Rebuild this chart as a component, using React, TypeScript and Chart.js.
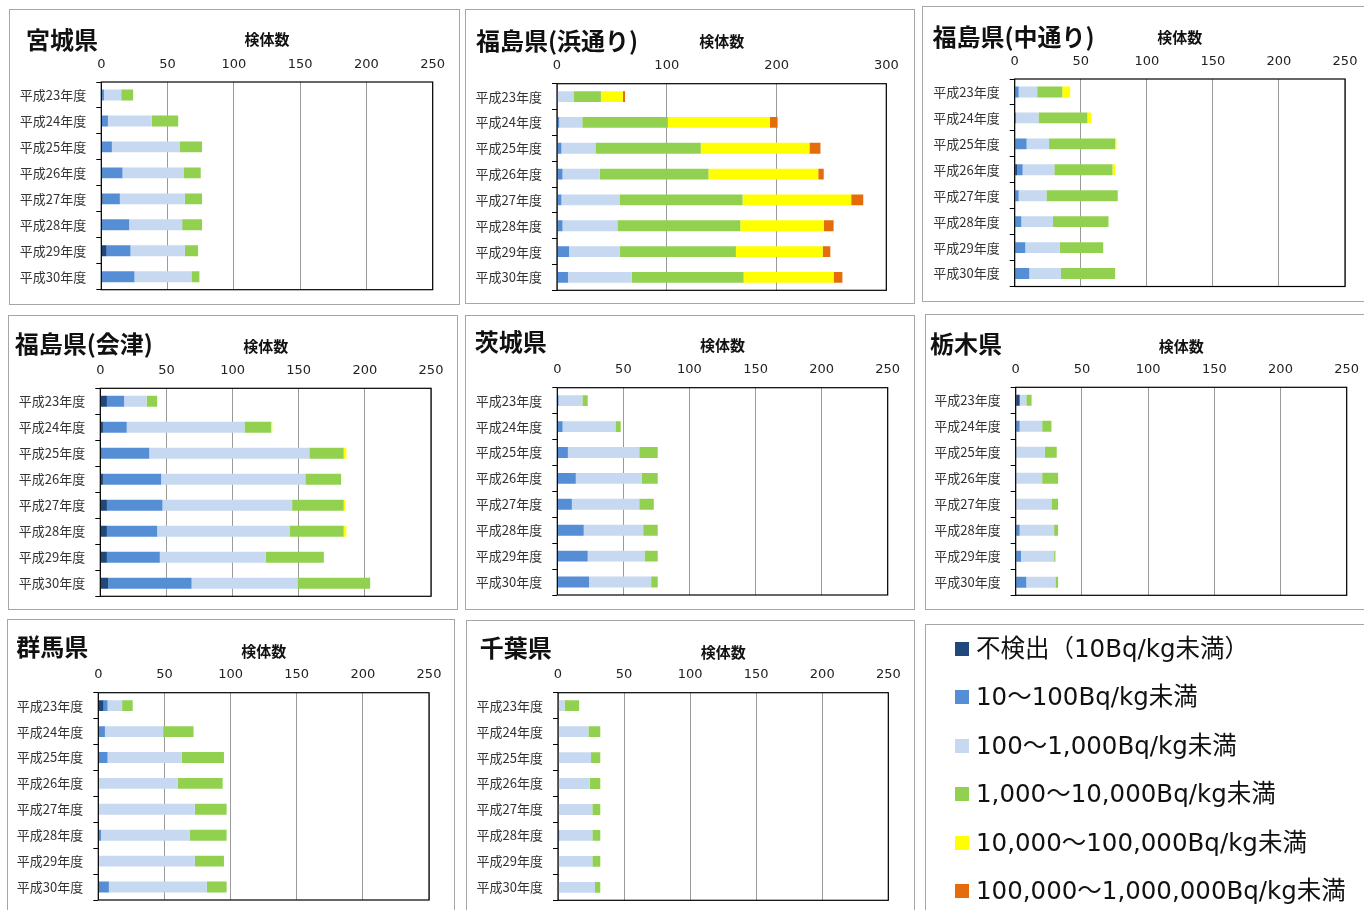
import React, { useEffect, useRef } from 'react';
import { Chart, registerables } from 'chart.js';

Chart.register(...registerables);

// ---------- data ----------
const categories = ['平成23年度', '平成24年度', '平成25年度', '平成26年度', '平成27年度', '平成28年度', '平成29年度', '平成30年度'];
const legendLabels = [
  '不検出（10Bq/kg未満）',
  '10～100Bq/kg未満',
  '100～1,000Bq/kg未満',
  '1,000～10,000Bq/kg未満',
  '10,000～100,000Bq/kg未満',
  '100,000～1,000,000Bq/kg未満',
];
const seriesColors = ['#1F497D', '#558ED5', '#C6D9F1', '#92D050', '#FFFF00', '#E46C0A'];
const axisTitle = '検体数';

// each prefecture: [不検出, 10-100, 100-1,000, 1,000-10,000, 10,000-100,000, 100,000-1,000,000]
const miyagi = [
  [0, 0, 0, 0, 1, 0, 4, 0],
  [2, 5, 8, 16, 13, 21, 18, 25],
  [13, 33, 51, 46, 49, 40, 41, 43],
  [9, 20, 17, 13, 13, 15, 10, 6],
  [0, 0, 0, 0, 0, 0, 0, 0],
  [0, 0, 0, 0, 0, 0, 0, 0],
];
const fukushimaHama = [
  [0, 0, 0, 0, 0, 0, 0, 0],
  [0, 2, 4, 5, 4, 5, 11, 10],
  [15, 21, 31, 34, 53, 50, 46, 58],
  [25, 78, 96, 99, 112, 112, 106, 102],
  [20, 93, 99, 100, 99, 76, 79, 82],
  [2, 7, 10, 5, 11, 9, 7, 8],
];
const fukushimaNaka = [
  [0, 0, 0, 2, 0, 0, 0, 0],
  [3, 1, 9, 4, 3, 5, 8, 11],
  [14, 17, 17, 24, 21, 24, 26, 24],
  [19, 37, 50, 44, 54, 42, 33, 41],
  [6, 3, 1, 2, 0, 0, 0, 0],
  [0, 0, 0, 0, 0, 0, 0, 0],
];
const fukushimaAizu = [
  [5, 2, 1, 2, 5, 5, 5, 6],
  [13, 18, 36, 44, 42, 38, 40, 63],
  [17, 89, 121, 109, 98, 100, 80, 80],
  [8, 20, 26, 27, 39, 41, 44, 55],
  [0, 1, 2, 0, 1, 2, 0, 0],
  [0, 0, 0, 0, 0, 0, 0, 0],
];
const ibaraki = [
  [0, 0, 0, 0, 0, 0, 0, 0],
  [1, 4, 8, 14, 11, 20, 23, 24],
  [18, 40, 54, 50, 51, 45, 43, 47],
  [4, 4, 14, 12, 11, 11, 10, 5],
  [0, 0, 0, 0, 0, 0, 0, 0],
  [0, 0, 0, 0, 0, 0, 0, 0],
];
const tochigi = [
  [3, 0, 0, 0, 0, 0, 0, 0],
  [0, 3, 0, 0, 0, 3, 4, 8],
  [5, 17, 22, 20, 27, 26, 25, 22],
  [4, 7, 9, 12, 5, 3, 1, 2],
  [0, 0, 0, 0, 0, 0, 0, 0],
  [0, 0, 0, 0, 0, 0, 0, 0],
];
const gunma = [
  [4, 0, 0, 0, 0, 0, 0, 0],
  [3, 5, 7, 0, 0, 2, 0, 8],
  [11, 44, 56, 60, 73, 67, 73, 74],
  [8, 23, 32, 34, 24, 28, 22, 15],
  [0, 0, 0, 0, 0, 0, 0, 0],
  [0, 0, 0, 0, 0, 0, 0, 0],
];
const chiba = [
  [0, 0, 0, 0, 0, 0, 0, 0],
  [0, 0, 0, 0, 0, 1, 0, 0],
  [5, 23, 25, 24, 26, 25, 26, 28],
  [11, 9, 7, 8, 6, 6, 6, 4],
  [0, 0, 0, 0, 0, 0, 0, 0],
  [0, 0, 0, 0, 0, 0, 0, 0],
];

// ---------- layout ----------
type PanelDef = {
  title: string;
  series: number[][];
  max: number;
  step: number;
  box: [number, number, number, number]; // x, y, w, h
  plot: [number, number, number, number]; // left, right, top, bottom
  titleX: number;
  titleY: number;
  axisY: number;
};

const panels: PanelDef[] = [
  { title: '宮城県', series: miyagi, max: 250, step: 50, box: [9, 9, 451, 296], plot: [101.3, 432.7, 82, 289.7], titleX: 26, titleY: 40, axisY: 39 },
  { title: '福島県(浜通り)', series: fukushimaHama, max: 300, step: 100, box: [465, 9, 450, 295], plot: [557, 886.3, 83.7, 290.3], titleX: 476, titleY: 41, axisY: 41 },
  { title: '福島県(中通り)', series: fukushimaNaka, max: 250, step: 50, box: [922, 6, 450, 296], plot: [1014.7, 1345, 79, 286.5], titleX: 932.5, titleY: 37, axisY: 37 },
  { title: '福島県(会津)', series: fukushimaAizu, max: 250, step: 50, box: [8, 315, 450, 295], plot: [100.3, 431, 388.3, 596.3], titleX: 14.7, titleY: 344, axisY: 346 },
  { title: '茨城県', series: ibaraki, max: 250, step: 50, box: [465, 315, 450, 295], plot: [557.3, 887.7, 387.7, 595], titleX: 474.7, titleY: 342, axisY: 345 },
  { title: '栃木県', series: tochigi, max: 250, step: 50, box: [925, 314, 450, 296], plot: [1015.7, 1346.7, 387.3, 595.3], titleX: 930, titleY: 344, axisY: 346 },
  { title: '群馬県', series: gunma, max: 250, step: 50, box: [7, 619, 448, 300], plot: [98.3, 429, 692.7, 900], titleX: 16.3, titleY: 646.7, axisY: 651 },
  { title: '千葉県', series: chiba, max: 250, step: 50, box: [466, 620, 449, 300], plot: [558, 888.3, 692.7, 900.3], titleX: 479.7, titleY: 648, axisY: 652 },
];

const legendBox: [number, number, number, number] = [925, 624, 450, 300];

const framePlugin = {
  id: 'plotFrame',
  afterDraw(chart: any) {
    const { ctx, chartArea } = chart;
    const { left, top, right, bottom } = chartArea;
    ctx.save();
    ctx.strokeStyle = '#000';
    ctx.lineWidth = 1.2;
    ctx.strokeRect(left, top, right - left, bottom - top);
    ctx.restore();
  },
};

function Panel({ p }: { p: PanelDef }) {
  const ref = useRef<HTMLCanvasElement | null>(null);
  const [bx, by, bw, bh] = p.box;
  const [pl, pr, pt, pb] = p.plot;
  // canvas extends below the box if needed, so the y-axis label padding never squeezes the plot
  const ch = Math.max(bh, Math.ceil(pb - by) + 24);

  useEffect(() => {
    if (!ref.current) return;
    const chart = new Chart(ref.current, {
      type: 'bar',
      data: {
        labels: categories,
        datasets: legendLabels.map((label, i) => ({
          label,
          data: p.series[i],
          backgroundColor: seriesColors[i],
          borderWidth: 0,
          barPercentage: 0.42,
          categoryPercentage: 1,
        })),
      },
      options: {
        indexAxis: 'y',
        responsive: false,
        animation: false,
        devicePixelRatio: 1,
        layout: { padding: { left: 0, top: 0, right: bx + bw - pr, bottom: by + ch - pb } },
        plugins: { legend: { display: false }, tooltip: { enabled: false } },
        scales: {
          x: {
            type: 'linear',
            position: 'top',
            stacked: true,
            min: 0,
            max: p.max,
            ticks: { stepSize: p.step, font: { family: 'DejaVu Sans', size: 13 }, color: '#222', padding: 10 },
            grid: { color: '#9a9a9a', drawTicks: false, lineWidth: 1 },
            border: { display: false },
            title: {
              display: true,
              text: axisTitle,
              font: { family: 'Noto Sans CJK JP', size: 15, weight: 'bold', lineHeight: 1.2 },
              color: '#111',
              padding: { top: p.axisY - by - 9, bottom: 0 },
            },
            afterFit: (s: any) => {
              s.height = pt - by;
            },
          },
          y: {
            type: 'category',
            position: 'left',
            stacked: true,
            grid: { offset: true, drawOnChartArea: false, drawTicks: true, tickLength: 5, color: '#000' },
            border: { display: false },
            ticks: { font: { family: 'Noto Sans CJK JP', size: 13 }, color: '#333', padding: 10 },
            afterFit: (s: any) => {
              s.width = pl - bx;
            },
          },
        },
      } as any,
      plugins: [framePlugin],
    });
    return () => chart.destroy();
  }, []);

  return (
    <>
      <div
        style={{
          position: 'absolute',
          left: bx,
          top: by,
          width: bw,
          height: bh,
          boxSizing: 'border-box',
          border: '1px solid #a6a6a6',
        }}
      />
      <canvas ref={ref} width={bw} height={ch} style={{ position: 'absolute', left: bx, top: by, width: bw, height: ch }} />
      <div
        style={{
          position: 'absolute',
          left: p.titleX,
          top: p.titleY - 13,
          font: "bold 24px 'Noto Sans CJK JP'",
          lineHeight: '24px',
          whiteSpace: 'nowrap',
          color: '#111',
        }}
      >
        {p.title}
      </div>
    </>
  );
}

export default function App() {
  const [lx, ly, lw, lh] = legendBox;
  return (
    <div style={{ position: 'absolute', left: 0, top: 0, width: 1364, height: 910, overflow: 'hidden', background: '#fff' }}>
      {panels.map((p) => (
        <Panel key={p.title} p={p} />
      ))}
      <div
        style={{
          position: 'absolute',
          left: lx,
          top: ly,
          width: lw,
          height: lh,
          boxSizing: 'border-box',
          border: '1px solid #a6a6a6',
        }}
      />
      {legendLabels.map((label, i) => {
        const cy = 648.5 + i * 48.5;
        return (
          <React.Fragment key={label}>
            <div style={{ position: 'absolute', left: 955, top: cy - 7, width: 14, height: 14, background: seriesColors[i] }} />
            <div
              style={{
                position: 'absolute',
                left: 976,
                top: cy - 12,
                font: "24.5px 'DejaVu Sans', 'Noto Sans CJK JP'",
                lineHeight: '24px',
                whiteSpace: 'nowrap',
                color: '#111',
              }}
            >
              {label}
            </div>
          </React.Fragment>
        );
      })}
    </div>
  );
}
